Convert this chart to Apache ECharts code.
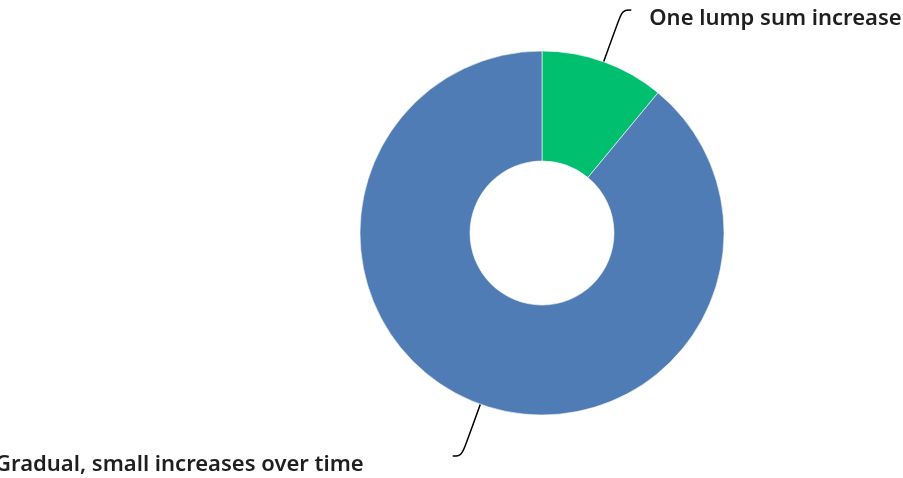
<!DOCTYPE html>
<html>
<head>
<meta charset="utf-8">
<script src="https://cdn.jsdelivr.net/npm/echarts@6/dist/echarts.min.js"></script>
<style>
html,body{margin:0;padding:0;background:#fff;}
#main{width:903px;height:478px;}
</style>
</head>
<body>
<div id="main"></div>
<script>
const categories = ['One lump sum increase', 'Gradual, small increases over time'];
const values = [11, 89];
const colors = ['#00BF6F', '#507CB6'];
const labelGaps = [18, 89];

const chart = echarts.init(document.getElementById('main'), null, {renderer: 'canvas'});
chart.setOption({
  animation: false,
  series: [{
    type: 'pie',
    center: [542, 233],
    radius: [72, 182],
    startAngle: 90,
    clockwise: true,
    avoidLabelOverlap: false,
    itemStyle: {borderColor: '#ffffff', borderWidth: 0.6},
    label: {
      show: true,
      position: 'outside',
      formatter: '\n{b}',
      color: '#1f1f1f',
      fontFamily: 'Noto Sans',
      fontWeight: 600,
      fontSize: 22,
      lineHeight: 17,
      overflow: 'none'
    },
    labelLine: {
      show: true,
      length: 55,
      length2: 9,
      smooth: 0.4,
      lineStyle: {color: '#000', width: 1.5}
    },
    data: categories.map((c, i) => ({
      name: c,
      value: values[i],
      itemStyle: {color: colors[i]},
      label: {distanceToLabelLine: labelGaps[i]}
    }))
  }]
});
</script>
</body>
</html>
